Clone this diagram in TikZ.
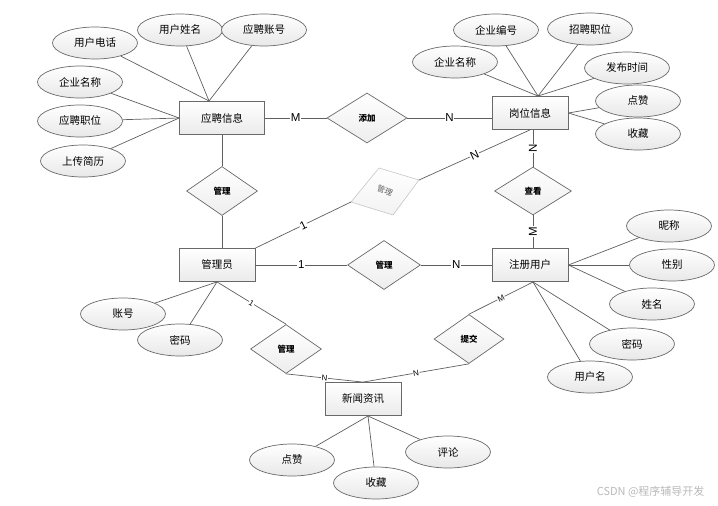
\documentclass[tikz,border=0pt]{standalone}
\usepackage{fontspec}
\setmainfont{Noto Sans CJK SC}
\newfontfamily\latinfont{Liberation Sans}
\usetikzlibrary{shapes.geometric,calc}
\definecolor{boxgray}{RGB}{105,105,105}
\definecolor{linegray}{RGB}{95,95,95}

\begin{document}
\begin{tikzpicture}[x=1pt,y=-1pt,
  entity/.style={rectangle, draw=boxgray, line width=0.8pt, top color=white, bottom color=gray!16, minimum width=76, minimum height=33, inner sep=0pt, font=\fontsize{10.5}{12}\selectfont},
  attr/.style={ellipse, draw=boxgray, line width=0.7pt, top color=white, bottom color=gray!18, minimum width=85, minimum height=32, inner sep=0pt, font=\fontsize{10.5}{12}\selectfont},
  rel/.style={diamond, draw=boxgray, line width=0.7pt, top color=white, bottom color=gray!14, minimum width=71, minimum height=49, inner sep=0pt, font=\fontsize{8.5}{10}\selectfont\bfseries},
  link/.style={draw=linegray, line width=0.7pt},
  card/.style={midway, sloped, fill=white, inner sep=0.6pt, font=\latinfont\fontsize{11.5}{12}\selectfont},
  vcard/.style={midway, rotate=90, fill=white, inner sep=0.6pt, font=\latinfont\fontsize{11.5}{12}\selectfont},
  smallcard/.style={card, font=\latinfont\fontsize{8}{9}\selectfont}]
\useasboundingbox (0,0) rectangle (718,506);

% entities
\node[entity, minimum width=85] (ypxx) at (222,118) {应聘信息};
\node[entity] (gwxx) at (530,113) {岗位信息};
\node[entity] (gly) at (217,265) {管理员};
\node[entity] (zcyh) at (530,265) {注册用户};
\node[entity] (xwzx) at (363,399) {新闻资讯};

% relations
\node[rel, minimum width=80, minimum height=50] (tianjia) at (367,118) {添加};
\node[rel] (guanli1) at (222,191) {管理};
\node[rel, minimum width=77, minimum height=48] (chakan) at (533,191) {查看};
\node[rel, minimum width=73] (guanli2) at (384,265) {管理};
\node[rel] (guanli3) at (286,349) {管理};
\node[rel, minimum width=70] (tijiao) at (469,339) {提交};

% attributes
\node[attr] (yhdh) at (95,43) {用户电话};
\node[attr] (yhxm) at (180,30) {用户姓名};
\node[attr] (ypzh) at (264,30) {应聘账号};
\node[attr] (qymc1) at (80,82) {企业名称};
\node[attr] (ypzw) at (80,121) {应聘职位};
\node[attr] (scjl) at (83,161) {上传简历};
\node[attr] (qymc2) at (455,62) {企业名称};
\node[attr] (qybh) at (496,30) {企业编号};
\node[attr] (zpzw) at (590,29) {招聘职位};
\node[attr] (fbsj) at (627,68) {发布时间};
\node[attr] (dz1) at (638,101) {点赞};
\node[attr] (sc1) at (638,134) {收藏};
\node[attr] (nc) at (669,226) {昵称};
\node[attr] (xb) at (672,265) {性别};
\node[attr] (xm) at (652,304) {姓名};
\node[attr] (mm1) at (632,344) {密码};
\node[attr] (yhm) at (590,377) {用户名};
\node[attr] (zh) at (123,314) {账号};
\node[attr] (mm2) at (180,340) {密码};
\node[attr] (dz2) at (292,460) {点赞};
\node[attr] (sc2) at (376,483) {收藏};
\node[attr] (pl) at (448,452) {评论};

\coordinate (ypT) at (209,101);
\coordinate (gwT) at (538,96);
\coordinate (gwB) at (533,130);
\coordinate (zcB) at (533,282);
\coordinate (xwB) at (368,416);

% tilted relation
\coordinate (tdL) at (351,202);
\coordinate (tdT) at (379,168);
\coordinate (tdR) at (419,180);
\coordinate (tdB) at (393,215);
\path[draw=gray!45, line width=0.6pt, top color=white, bottom color=gray!10] (tdL) -- (tdT) -- (tdR) -- (tdB) -- cycle;
\node[rotate=-22, inner sep=0pt, text=gray!75!black, font=\fontsize{8}{9}\selectfont] (guanli4) at (385,191) {管理};

\draw[link] (yhdh) -- (ypT);
\draw[link] (yhxm) -- (ypT);
\draw[link] (ypzh) -- (ypT);
\draw[link] (qymc1) -- (ypxx.west);
\draw[link] (ypzw) -- (ypxx.west);
\draw[link] (scjl) -- (ypxx.west);

\draw[link] (qymc2) -- (gwT);
\draw[link] (qybh) -- (gwT);
\draw[link] (zpzw) -- (gwT);
\draw[link] (fbsj) -- (gwT);
\draw[link] (dz1) -- (gwxx.east);
\draw[link] (sc1) -- (gwxx.east);

\draw[link] (ypxx) -- node[card] {M} (tianjia);
\draw[link] (tianjia) -- node[card] {N} (tianjia -| gwxx.west);
\draw[link] (ypxx) -- (guanli1);
\draw[link] (guanli1) -- (guanli1 |- gly.north);
\draw[link] (gly.north east) -- node[card] {1} (tdL);
\draw[link] (tdR) -- node[card] {N} (gwxx.south);
\draw[link] (chakan) -- node[vcard] {N} (chakan |- gwB);
\draw[link] (chakan |- zcyh.north) -- node[vcard] {M} (chakan);

\draw[link] (gly) -- node[card] {1} (guanli2);
\draw[link] (guanli2) -- node[card] {N} (zcyh);
\draw[link] (nc) -- (zcyh.east);
\draw[link] (xb) -- (zcyh.east);
\draw[link] (xm) -- (zcyh.east);
\draw[link] (mm1) -- (zcB);
\draw[link] (yhm) -- (zcB);
\draw[link] (zcB) -- node[smallcard] {M} (tijiao.north);
\draw[link] (tijiao.south) -- node[smallcard] {N} (xwzx.north);

\draw[link] (gly.south) -- (zh);
\draw[link] (gly.south) -- (mm2);
\draw[link] (gly.south) -- node[smallcard] {1} (guanli3.north);
\draw[link] (guanli3.south) -- node[smallcard] {N} (xwzx.north);
\draw[link] (xwB) -- (dz2);
\draw[link] (xwB) -- (sc2);
\draw[link] (xwB) -- (pl);

\node[anchor=east, text=gray!55, font=\fontsize{11}{13}\selectfont] (csdn) at (708,492) {CSDN @程序辅导开发};
\end{tikzpicture}
\end{document}
